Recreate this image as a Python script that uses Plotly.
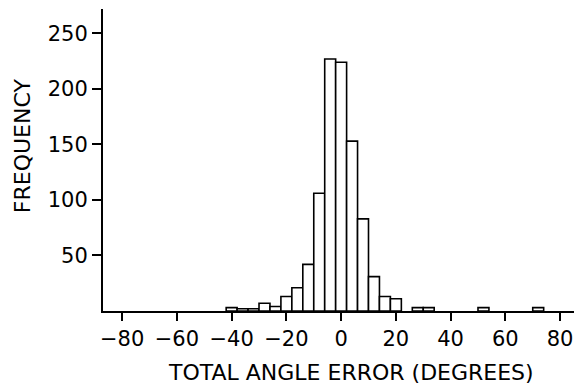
import plotly.graph_objects as go

# bin centers (degrees, 4-degree bins) and frequencies
bin_centers = [-40, -36, -32, -28, -24, -20, -16, -12, -8, -4, 0, 4, 8, 12, 16, 20, 28, 32, 52, 72]
frequency = [3, 2, 2, 7, 4, 13, 21, 42, 106, 227, 224, 153, 83, 31, 13, 11, 3, 3, 3, 3]
x_ticks = [-80, -60, -40, -20, 0, 20, 40, 60, 80]
y_ticks = [50, 100, 150, 200, 250]
bin_width = 4

FONT = "DejaVu Sans"

# page body has an 8px margin, so the figure is offset by (8, 8)
OFF = 8
PLOT_W = 479
PLOT_H = 301.7
L = 103 - OFF
T = 9 - OFF
W = 582 - OFF
H = 384 - OFF
B = H - T - PLOT_H

fig = go.Figure(
    go.Bar(
        x=bin_centers,
        y=frequency,
        width=[bin_width] * len(bin_centers),
        marker=dict(color="white", line=dict(color="black", width=1.6)),
    )
)

fig.update_layout(
    width=W,
    height=H,
    margin=dict(l=L, r=W - L - PLOT_W, t=T, b=B, pad=0),
    paper_bgcolor="white",
    plot_bgcolor="white",
    showlegend=False,
    font=dict(family=FONT, color="black", size=21),
    xaxis=dict(
        range=[-87, 88],
        tickvals=x_ticks,
        ticks="outside",
        ticklen=8,
        tickwidth=2,
        tickcolor="black",
        showline=True,
        linecolor="black",
        linewidth=2,
        showgrid=False,
        zeroline=False,
        automargin=False,
        tickfont=dict(family=FONT, size=21, color="black"),
    ),
    yaxis=dict(
        range=[0, 272],
        tickvals=y_ticks,
        ticks="outside",
        ticklen=9,
        tickwidth=2,
        tickcolor="black",
        showline=True,
        linecolor="black",
        linewidth=2,
        showgrid=False,
        zeroline=False,
        automargin=False,
        tickfont=dict(family=FONT, size=21, color="black"),
    ),
    annotations=[
        dict(
            text="TOTAL ANGLE ERROR (DEGREES)",
            xref="paper", yref="paper",
            x=(351 - 103) / PLOT_W, y=(310.7 - 372) / PLOT_H,
            xanchor="center", yanchor="middle",
            showarrow=False,
            font=dict(family=FONT, size=22, color="black"),
        ),
        dict(
            text="FREQUENCY",
            xref="paper", yref="paper",
            x=(22 - 103) / PLOT_W, y=(310.7 - 146) / PLOT_H,
            xanchor="center", yanchor="middle",
            textangle=-90,
            showarrow=False,
            font=dict(family=FONT, size=22, color="black"),
        ),
    ],
)

fig.write_html("out.html")
